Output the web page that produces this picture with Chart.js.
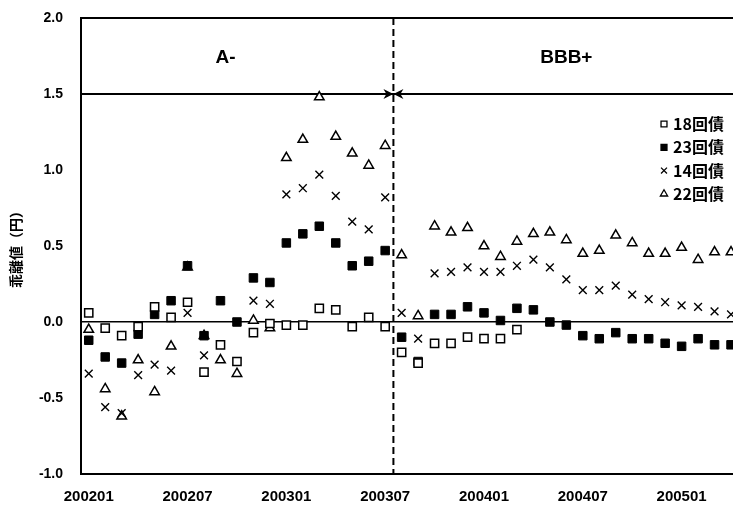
<!DOCTYPE html>
<html>
<head>
<meta charset="utf-8">
<script src="https://cdn.jsdelivr.net/npm/chart.js@4.4.0/dist/chart.umd.min.js"></script>
<style>
  html, body { margin: 0; padding: 0; background: #fff; overflow: hidden; }
  #wrap { width: 733px; height: 506px; }
  canvas { display: block; }
</style>
</head>
<body>
<div id="wrap"><canvas id="myChart" width="733" height="506"></canvas></div>
<script>
const months = [
  '200201','200202','200203','200204','200205','200206','200207','200208','200209','200210','200211','200212',
  '200301','200302','200303','200304','200305','200306','200307','200308','200309','200310','200311','200312',
  '200401','200402','200403','200404','200405','200406','200407','200408','200409','200410','200411','200412',
  '200501','200502','200503','200504'
];
const tickMonths = ['200201','200207','200301','200307','200401','200407','200501'];
const yTicks = [-1.0, -0.5, 0.0, 0.5, 1.0, 1.5, 2.0];

const seriesNames = ['18回債', '23回債', '14回債', '22回債'];

const bond18 = [0.06,-0.04,-0.09,-0.03,0.10,0.03,0.13,-0.33,-0.15,-0.26,
  -0.07,-0.01,-0.02,-0.02,0.09,0.08,-0.03,0.03,-0.03,-0.20,
  -0.27,-0.14,-0.14,-0.10,-0.11,-0.11,-0.05,null,null,null,
  null,null,null,null,null,null,null,null,null,null];
const bond23 = [-0.12,-0.23,-0.27,-0.08,0.05,0.14,0.37,-0.09,0.14,0.00,
  0.29,0.26,0.52,0.58,0.63,0.52,0.37,0.40,0.47,-0.10,
  -0.26,0.05,0.05,0.10,0.06,0.01,0.09,0.08,0.00,-0.02,
  -0.09,-0.11,-0.07,-0.11,-0.11,-0.14,-0.16,-0.11,-0.15,-0.15];
const bond14 = [-0.34,-0.56,-0.60,-0.35,-0.28,-0.32,0.06,-0.22,-0.15,-0.26,
  0.14,0.12,0.84,0.88,0.97,0.83,0.66,0.61,0.82,0.06,
  -0.11,0.32,0.33,0.36,0.33,0.33,0.37,0.41,0.36,0.28,
  0.21,0.21,0.24,0.18,0.15,0.13,0.11,0.10,0.07,0.05];
const bond22 = [-0.05,-0.44,-0.62,-0.25,-0.46,-0.16,0.36,-0.09,-0.25,-0.34,
  0.01,-0.04,1.08,1.20,1.48,1.22,1.11,1.03,1.16,0.44,
  0.04,0.63,0.59,0.62,0.50,0.43,0.53,0.58,0.59,0.54,
  0.45,0.47,0.57,0.52,0.45,0.45,0.49,0.41,0.46,0.46];

// rating periods: A- up to 200307, BBB+ after
const ratings = ['A-', 'BBB+'];
const ratingLabelAt = [8.3, 29.0];
const ratingChangeAfter = '200307';
const ratingLineLevel = 1.5;

const toPoints = arr => arr.map((v, i) => (v === null ? null : {x: i, y: v})).filter(p => p);

const styles = [
  {pointStyle: 'rect', pointRadius: 5.8, backgroundColor: '#fff', borderColor: '#000', pointBorderWidth: 1.5},
  {pointStyle: 'rect', pointRadius: 6, backgroundColor: '#000', borderColor: '#000', pointBorderWidth: 1},
  {pointStyle: 'crossRot', pointRadius: 5.5, backgroundColor: '#000', borderColor: '#000', pointBorderWidth: 1.4},
  {pointStyle: 'triangle', pointRadius: 5.5, backgroundColor: '#fff', borderColor: '#000', pointBorderWidth: 1.5}
];
const allSeries = [bond18, bond23, bond14, bond22];

const decorations = {
  id: 'decorations',
  beforeDatasetsDraw(chart) {
    const {ctx, chartArea: a, scales: {x, y}} = chart;
    const bx = x.getPixelForValue(months.indexOf(ratingChangeAfter) + 0.5);
    const ly = y.getPixelForValue(ratingLineLevel);
    ctx.save();
    ctx.strokeStyle = '#000';
    ctx.fillStyle = '#000';
    // rating line with arrows meeting at the change
    ctx.lineWidth = 2;
    ctx.beginPath();
    ctx.moveTo(a.left, ly); ctx.lineTo(a.right, ly);
    ctx.stroke();
    ctx.beginPath();
    ctx.moveTo(bx, ly); ctx.lineTo(bx - 10, ly - 5); ctx.lineTo(bx - 7, ly); ctx.lineTo(bx - 10, ly + 5); ctx.closePath();
    ctx.moveTo(bx, ly); ctx.lineTo(bx + 10, ly - 5); ctx.lineTo(bx + 7, ly); ctx.lineTo(bx + 10, ly + 5); ctx.closePath();
    ctx.fill();
    // dashed boundary
    ctx.setLineDash([7, 4]);
    ctx.beginPath();
    ctx.moveTo(bx, a.top); ctx.lineTo(bx, a.bottom);
    ctx.stroke();
    ctx.setLineDash([]);
    // rating labels
    ctx.font = 'bold 19px "Liberation Sans", Arial, sans-serif';
    ctx.textAlign = 'center';
    ctx.textBaseline = 'middle';
    ratings.forEach((r, i) => {
      ctx.fillText(r, x.getPixelForValue(ratingLabelAt[i]), y.getPixelForValue(1.74));
    });
    ctx.restore();
  },
  afterDraw(chart) {
    const {ctx} = chart;
    ctx.save();
    ctx.font = 'bold 16px "Noto Sans CJK JP", sans-serif';
    ctx.textBaseline = 'middle';
    ctx.textAlign = 'left';
    seriesNames.forEach((name, i) => {
      const yy = 124 + i * 23.3;
      const st = styles[i];
      ctx.fillStyle = st.backgroundColor;
      ctx.strokeStyle = st.borderColor;
      ctx.lineWidth = 1.3;
      Chart.helpers.drawPoint(ctx, {pointStyle: st.pointStyle, radius: 4.2, rotation: 0, borderWidth: 1.3}, 664, yy);
      ctx.fillStyle = '#000';
      ctx.fillText(name, 673, yy);
    });
    ctx.restore();
  }
};

const datasets = allSeries.map((s, i) => Object.assign({
  label: seriesNames[i],
  data: toPoints(s),
  showLine: false
}, styles[i]));

new Chart(document.getElementById('myChart'), {
  type: 'scatter',
  data: {datasets},
  options: {
    responsive: false,
    animation: false,
    layout: {autoPadding: false, padding: {top: 18, right: 0, bottom: -14, left: 0}},
    plugins: {legend: {display: false}, tooltip: {enabled: false}},
    scales: {
      x: {
        type: 'linear',
        min: -0.47,
        max: 39.12,
        afterBuildTicks: s => { s.ticks = tickMonths.map(m => ({value: months.indexOf(m)})); },
        afterFit: s => { s.paddingLeft = 0; s.paddingRight = 0; },
        ticks: {
          callback: v => months[v],
          color: '#000',
          font: {family: '"Liberation Sans", Arial, sans-serif', size: 15, weight: 'bold'},
          padding: 14,
          maxRotation: 0,
          autoSkip: false
        },
        grid: {display: false, drawTicks: false},
        border: {display: true, color: '#000', width: 2}
      },
      y: {
        min: -1,
        max: 2,
        afterBuildTicks: s => { s.ticks = yTicks.map(v => ({value: v})); },
        afterFit: s => { s.width = 81; s.paddingTop = 0; s.paddingBottom = 0; },
        ticks: {
          callback: v => v.toFixed(1),
          color: '#000',
          font: {family: '"Liberation Sans", Arial, sans-serif', size: 14, weight: 'bold'},
          padding: 18
        },
        grid: {
          drawTicks: false,
          color: c => (c.tick && (c.tick.value === 0 || c.tick.value === 2) ? '#000' : 'rgba(0,0,0,0)'),
          lineWidth: c => (c.tick && c.tick.value === 2 ? 2 : 1.5)
        },
        border: {display: true, color: '#000', width: 2},
        title: {
          display: true,
          text: '乖離値（円）',
          color: '#000',
          font: {family: '"Noto Sans CJK JP", sans-serif', size: 14, weight: 'bold'},
          padding: {top: 7.5, bottom: 0}
        }
      }
    }
  },
  plugins: [decorations]
});
</script>
</body>
</html>
